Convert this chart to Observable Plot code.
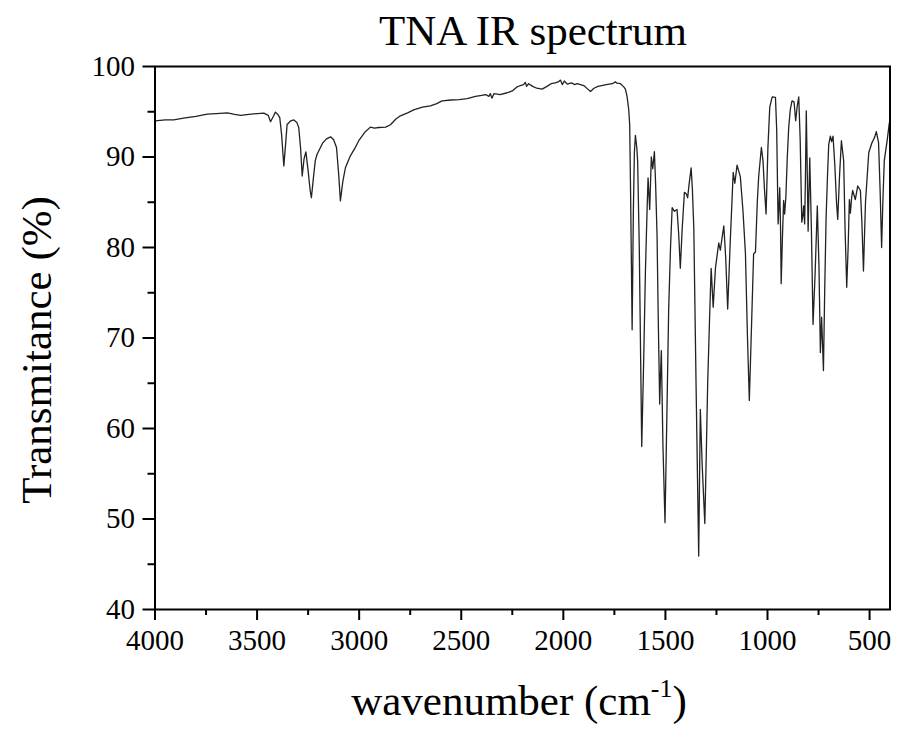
<!DOCTYPE html>
<html>
<head>
<meta charset="utf-8">
<script src="https://cdn.jsdelivr.net/npm/d3@7"></script>
<script src="https://cdn.jsdelivr.net/npm/@observablehq/plot@0.6"></script>
<style>
  body { margin: 0; background: #fff; }
  #wrap { position: relative; width: 898px; height: 731px; font-family: "Liberation Serif", "Times New Roman", serif; color: #000; background: #fff; }
  #title { height: 52px; line-height: 61px; font-size: 43px; text-align: center; padding-left: 168px; white-space: nowrap; }
  #xlabel { height: 61px; line-height: 61px; font-size: 43px; text-align: center; padding-left: 140px; white-space: nowrap; }
  #xlabel sup { font-size: 26px; line-height: 0; vertical-align: 18px; }
  #ylabel { position: absolute; left: 35.5px; top: 350px; font-size: 43px; line-height: 43px; white-space: nowrap; transform: translate(-50%, -50%) rotate(-90deg); }
  #chart svg { display: block; overflow: visible; }
  #chart svg g[aria-label="x-axis tick"], #chart svg g[aria-label="y-axis tick"] { stroke-width: 2px; }
</style>
</head>
<body>
<div id="wrap">
  <div id="title">TNA IR spectrum</div>
  <div id="chart"></div>
  <div id="xlabel">wavenumber (cm<sup>-1</sup>)</div>
  <div id="ylabel">Transmitance (%)</div>
</div>
<script>
const wavenumber = [
  4000,3950,3908,3860,3800,3744,3700,3646,3610,3581,3540,3500,3467,3445,3434,3420,3410,3398,3389,3380,
  3369,3360,3353,3335,3320,3305,3296,3287,3279,3270,3261,3250,3240,3234,3225,3215,3206,3180,3160,3140,
  3125,3111,3100,3092,3080,3067,3043,3020,3002,2970,2945,2925,2904,2870,2847,2820,2798,2760,2733,2690,
  2651,2620,2594,2550,2510,2471,2430,2400,2380,2365,2357,2350,2340,2310,2275,2250,2226,2210,2195,2186,
  2180,2170,2150,2130,2104,2080,2060,2040,2025,2014,2005,1995,1981,1960,1945,1932,1900,1880,1867,1850,
  1830,1818,1790,1760,1745,1737,1720,1704,1696,1688,1680,1675,1670,1663,1657,1652,1647,1640,1636,1628,
  1616,1606,1598,1590,1585,1577,1569,1562,1554,1548,1541,1535,1528,1524,1520,1512,1502,1494,1484,1475,
  1467,1456,1443,1435,1427,1418,1407,1397,1391,1384,1374,1368,1361,1350,1337,1329,1320,1307,1300,1293,
  1284,1276,1266,1255,1239,1231,1214,1205,1195,1182,1168,1160,1149,1133,1120,1108,1098,1089,1080,1068,
  1059,1050,1043,1030,1022,1015,1007,998,989,977,961,955,948,944,940,936,933,927,921,916,
  910,903,896,888,880,870,862,855,847,840,832,827,823,818,814,810,805,801,797,793,
  785,777,767,756,748,741,735,726,720,713,706,700,692,686,679,670,662,656,647,638,
  627,620,612,605,599,594,588,583,570,558,545,538,530,520,504,488,475,467,456,448,
  441,435,428,414,403
];
const transmittance = [
  94.0,94.1,94.1,94.3,94.5,94.74,94.8,94.88,94.7,94.6,94.7,94.8,94.85,94.6,93.9,94.5,94.96,94.7,94.36,92.5,
  89.0,91.5,93.6,94.0,94.1,93.8,93.26,91.0,87.9,89.8,90.57,88.5,86.3,85.5,87.5,89.6,90.3,91.5,92.0,92.23,
  91.9,91.05,88.0,85.16,87.3,88.84,90.13,91.0,91.8,92.8,93.3,93.2,93.26,93.3,93.56,94.2,94.55,94.9,95.2,95.5,
  95.66,95.9,96.2,96.3,96.35,96.46,96.7,96.8,96.9,96.7,97.0,96.5,97.0,96.9,97.1,97.3,97.76,97.9,98.0,98.23,
  97.8,98.1,97.8,97.6,97.5,97.8,98.1,98.2,98.3,98.5,98.0,98.4,98.05,98.2,98.0,98.1,97.9,97.5,97.24,97.6,
  97.8,97.87,98.0,98.1,98.3,98.16,98.1,97.75,97.5,96.7,95.3,93.6,85.0,70.9,84.0,90.5,92.4,91.0,89.5,80.0,
  58.0,68.0,77.3,84.0,87.7,84.2,90.0,88.7,90.6,87.0,81.4,72.0,62.7,66.0,68.6,58.0,49.6,60.0,73.2,80.0,
  84.4,84.0,84.2,81.5,77.7,82.0,86.1,85.9,85.5,87.0,88.8,86.5,82.2,65.0,45.9,62.1,56.0,49.5,57.0,65.0,
  72.0,77.7,73.4,77.7,80.5,79.7,82.4,79.0,73.2,80.9,88.3,87.1,89.1,87.8,84.0,79.3,70.0,63.1,70.0,79.3,
  79.5,85.0,87.9,91.05,89.6,86.5,83.7,91.0,95.5,96.65,96.6,93.0,82.6,84.5,86.6,82.0,76.0,81.0,85.2,83.7,
  85.6,90.0,93.3,95.3,96.2,96.1,94.0,95.5,96.65,92.0,82.8,83.5,84.6,82.6,88.0,95.1,88.0,81.8,86.0,89.9,
  82.0,71.5,77.0,84.6,78.0,68.4,72.3,66.4,75.0,83.3,88.0,91.4,92.3,91.7,92.3,89.0,85.0,83.1,88.0,91.8,
  89.6,82.0,75.6,80.0,85.3,83.8,85.5,86.3,85.3,86.8,86.3,83.0,77.4,85.0,90.5,91.6,92.2,92.8,91.6,86.0,
  80.0,85.0,89.6,91.8,93.8
];
const xMajorTicks = [4000, 3500, 3000, 2500, 2000, 1500, 1000, 500];
const xMinorTicks = [3750, 3250, 2750, 2250, 1750, 1250, 750];
const yMajorTicks = [40, 50, 60, 70, 80, 90, 100];
const yMinorTicks = [45, 55, 65, 75, 85, 95];

const spectrum = wavenumber.map((w, i) => ({wn: w, t: transmittance[i]}));
const serif = "Liberation Serif";
const W = 898, H = 618, ML = 154.5, MR = 8.5, MT = 14, MB = 61;

const chart = Plot.plot({
  width: W,
  height: H,
  marginLeft: ML,
  marginRight: MR,
  marginTop: MT,
  marginBottom: MB,
  style: {fontFamily: serif, fontSize: "29px"},
  x: {domain: [4000, 400], label: null},
  y: {domain: [40, 100], label: null},
  marks: [
    Plot.line(spectrum, {x: "wn", y: "t", stroke: "#222", strokeWidth: 1.3}),
    Plot.tickX(xMinorTicks, {x: d => d, stroke: "#000", strokeWidth: 2, insetTop: H - MT - MB, insetBottom: -6}),
    Plot.tickY(yMinorTicks, {y: d => d, stroke: "#000", strokeWidth: 2, insetLeft: -7, insetRight: W - ML - MR}),
    Plot.axisX({ticks: xMajorTicks, tickSize: 11, tickPadding: 9, tickFormat: d => String(d), label: null, fontFamily: serif, fontSize: 29}),
    Plot.axisY({ticks: yMajorTicks, tickSize: 12, tickPadding: 8, tickFormat: d => String(d), label: null}),
    Plot.frame({stroke: "#000", strokeWidth: 2})
  ]
});
document.getElementById("chart").appendChild(chart);
void getComputedStyle(chart.querySelector("text")).fontFamily;
</script>
</body>
</html>
